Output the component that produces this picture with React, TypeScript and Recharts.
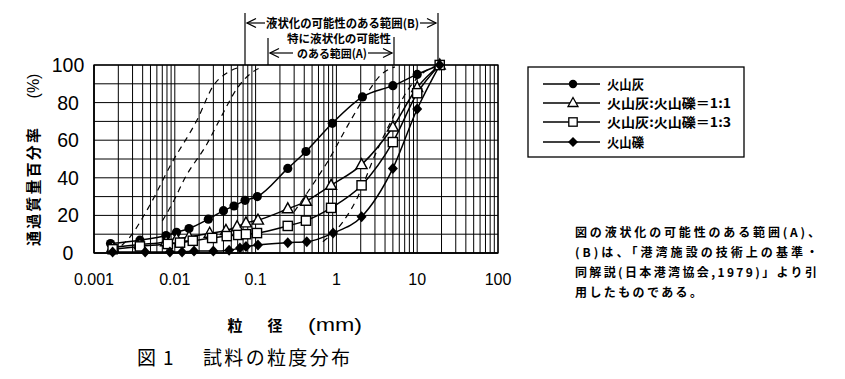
import React from 'react';
import { LineChart, Line, XAxis, YAxis, CartesianGrid } from 'recharts';

// ---- series data (particle size mm, passing %) ----
const ashX = [0.0016, 0.0037, 0.0078, 0.0105, 0.015, 0.026, 0.04, 0.054, 0.074, 0.105, 0.25, 0.42, 0.89, 2.1, 5.0, 10, 19];
const ashY = [5, 6.8, 9.3, 11, 13, 18, 22.5, 25, 28, 30, 45, 54, 69, 83, 89, 95, 100];

const mix11X = [0.0017, 0.0037, 0.0078, 0.0105, 0.015, 0.027, 0.043, 0.059, 0.076, 0.107, 0.25, 0.42, 0.86, 2.05, 5.0, 10, 19];
const mix11Y = [3, 4.5, 6, 7.5, 8.5, 10.5, 12, 14, 16, 17.5, 23.5, 27.5, 36, 47, 67, 88, 100];

const mix13X = [0.0017, 0.0037, 0.0082, 0.0116, 0.0167, 0.029, 0.044, 0.061, 0.076, 0.104, 0.25, 0.42, 0.86, 2.05, 5.0, 10, 19];
const mix13Y = [2, 3.5, 4.8, 5.5, 6.5, 8, 9, 9.6, 10, 10.6, 14.4, 17.2, 24, 36, 59, 85, 100];

const gravelX = [0.0017, 0.0043, 0.0087, 0.0123, 0.0173, 0.03, 0.047, 0.064, 0.076, 0.107, 0.25, 0.43, 0.91, 2.05, 5.0, 10, 19];
const gravelY = [0.5, 0.5, 0.5, 0.5, 1, 1, 1.5, 2.6, 3.4, 4.3, 5.5, 6, 10.6, 19.3, 45, 76.6, 100];

// ---- liquefaction boundary curves (dashed) ----
const bLeftX = [0.0022, 0.0026, 0.0047, 0.0092, 0.019, 0.03, 0.045, 0.065];
const bLeftY = [4, 7, 24, 48, 71, 89, 96, 99];
const aLeftX = [0.007, 0.0095, 0.0134, 0.025, 0.036, 0.06, 0.09, 0.12];
const aLeftY = [17, 27, 40, 58, 71, 88, 96, 99];
const aRightX = [0.3, 0.54, 0.79, 1.39, 2.4, 3.6, 5.3];
const aRightY = [22, 38, 49, 68, 85, 95, 99];
const bRightX = [0.68, 1.2, 1.8, 3.0, 5.0, 8.0, 12, 17];
const bRightY = [6, 16.5, 29, 52, 72, 88, 96, 99.5];

// ---- axes ----
const xDecades = [0.001, 0.01, 0.1, 1, 10, 100];
const xTickLabels = ['0.001', '0.01', '0.1', '1', '10', '100'];
const xMultipliers = [1, 2, 3, 4, 5, 6, 7, 8, 9];
const yGrid = [0, 10, 20, 30, 40, 50, 60, 70, 80, 90, 100];
const yLabelled = [0, 20, 40, 60, 80, 100];

const seriesNames = ['火山灰', '火山灰:火山礫＝1:1', '火山灰:火山礫＝1:3', '火山礫'];

const toData = (xs: number[], ys: number[]) => xs.map((x, i) => ({ x, y: ys[i] }));

const xGridTicks: number[] = [];
xDecades.forEach((d, i) => {
  if (i === xDecades.length - 1) { xGridTicks.push(d); return; }
  xMultipliers.forEach((m) => xGridTicks.push(m === 1 ? d : Number((d * m).toPrecision(3))));
});

const FONT = '"Liberation Sans", Arial, sans-serif';
const JP = '"Noto Sans CJK JP", "Noto Sans", sans-serif';

const XTick = (props: any) => {
  const { x, payload } = props;
  const i = xDecades.indexOf(payload.value);
  if (i < 0) return <g />;
  return (
    <text x={x} y={285} textAnchor="middle" fontFamily={FONT} fontSize={16} fill="#000">
      {xTickLabels[i]}
    </text>
  );
};

const YTick = (props: any) => {
  const { y, payload } = props;
  if (!yLabelled.includes(payload.value)) return <g />;
  return (
    <text x={68} y={y} dy={7} textAnchor="middle" fontFamily={FONT} fontSize={19.5} fill="#000">
      {payload.value}
    </text>
  );
};

const circleDot = (p: any) => <circle key={p.index} cx={p.cx} cy={p.cy} r={4.6} fill="#000" />;
const triDot = (p: any) => (
  <polygon key={p.index} points={`${p.cx},${p.cy - 6} ${p.cx - 5.5},${p.cy + 4} ${p.cx + 5.5},${p.cy + 4}`} fill="#fff" stroke="#000" strokeWidth={1.4} />
);
const sqDot = (p: any) => (
  <rect key={p.index} x={p.cx - 4.6} y={p.cy - 4.6} width={9.2} height={9.2} fill="#fff" stroke="#000" strokeWidth={1.4} />
);
const diaDot = (p: any) => (
  <polygon key={p.index} points={`${p.cx},${p.cy - 5.5} ${p.cx + 5},${p.cy} ${p.cx},${p.cy + 5.5} ${p.cx - 5},${p.cy}`} fill="#000" />
);

const Arrow = ({ x, y, dir }: { x: number; y: number; dir: 1 | -1 }) => (
  <polyline points={`${x + dir * 9},${y - 4.5} ${x},${y} ${x + dir * 9},${y + 4.5}`} fill="none" stroke="#000" strokeWidth={1.3} />
);

const legendMarkers = [
  (cx: number, cy: number) => <circle cx={cx} cy={cy} r={4.2} fill="#000" />,
  (cx: number, cy: number) => <polygon points={`${cx},${cy - 5.5} ${cx - 5},${cy + 3.5} ${cx + 5},${cy + 3.5}`} fill="#fff" stroke="#000" strokeWidth={1.3} />,
  (cx: number, cy: number) => <rect x={cx - 4.2} y={cy - 4.2} width={8.4} height={8.4} fill="#fff" stroke="#000" strokeWidth={1.3} />,
  (cx: number, cy: number) => <polygon points={`${cx},${cy - 5} ${cx + 5},${cy} ${cx},${cy + 5} ${cx - 5},${cy}`} fill="#000" />,
];
const legendRows = [84, 103, 122, 142];
const legendLengths = [37, 124, 124, 37];

const noteLines = [
  '図の液状化の可能性のある範囲(A)、',
  '(B)は、「港湾施設の技術上の基準・',
  '同解説(日本港湾協会,1979)」より引',
  '用したものである。',
];
const noteLengths = [245, 243, 242, 127];

export default function App() {
  const series = [
    { name: seriesNames[0], data: toData(ashX, ashY), dot: circleDot },
    { name: seriesNames[1], data: toData(mix11X, mix11Y), dot: triDot },
    { name: seriesNames[2], data: toData(mix13X, mix13Y), dot: sqDot },
    { name: seriesNames[3], data: toData(gravelX, gravelY), dot: diaDot },
  ];
  const bounds = [
    toData(bLeftX, bLeftY),
    toData(aLeftX, aLeftY),
    toData(aRightX, aRightY),
    toData(bRightX, bRightY),
  ];
  return (
    <div style={{ position: 'absolute', left: 0, top: 0, width: 845, height: 379, background: '#fff' }}>
      <LineChart width={845} height={379} margin={{ top: 65, right: 347, bottom: 96, left: 54 }}>
        <CartesianGrid stroke="#000" strokeWidth={1} />
        <XAxis
          type="number"
          dataKey="x"
          scale="log"
          domain={[0.001, 100]}
          ticks={xGridTicks}
          allowDataOverflow
          height={30}
          tick={<XTick />}
          tickLine={false}
          axisLine={{ stroke: '#000', strokeWidth: 1.3 }}
          interval={0}
        />
        <YAxis
          type="number"
          domain={[0, 100]}
          ticks={yGrid}
          width={40}
          tick={<YTick />}
          tickLine={false}
          axisLine={{ stroke: '#000', strokeWidth: 1.3 }}
          interval={0}
        />
        {bounds.map((b, i) => (
          <Line
            key={'b' + i}
            data={b}
            dataKey="y"
            type="monotone"
            stroke="#000"
            strokeWidth={1.2}
            strokeDasharray="6 5"
            dot={false}
            isAnimationActive={false}
          />
        ))}
        {series.map((s) => (
          <Line
            key={s.name}
            name={s.name}
            data={s.data}
            dataKey="y"
            type="monotone"
            stroke="#000"
            strokeWidth={1.5}
            dot={s.dot}
            isAnimationActive={false}
          />
        ))}
      </LineChart>
      <svg width={845} height={379} style={{ position: 'absolute', left: 0, top: 0, pointerEvents: 'none' }}>
        {/* plot border */}
        <rect x={94} y={65} width={404} height={188} fill="none" stroke="#000" strokeWidth={1.3} />
        {/* range B */}
        <line x1={245} y1={13} x2={245} y2={65} stroke="#000" strokeWidth={1.2} />
        <line x1={438} y1={13} x2={438} y2={65} stroke="#000" strokeWidth={1.2} />
        <line x1={247} y1={23} x2={265} y2={23} stroke="#000" strokeWidth={1.2} />
        <line x1={420} y1={23} x2={436} y2={23} stroke="#000" strokeWidth={1.2} />
        <Arrow x={247} y={23} dir={1} />
        <Arrow x={436} y={23} dir={-1} />
        <text x={266} y={23} dy={4.5} fontFamily={JP} fontSize={12} fontWeight={700} textLength={153} lengthAdjust="spacingAndGlyphs">液状化の可能性のある範囲(B)</text>
        {/* range A */}
        <line x1={268} y1={38} x2={268} y2={65} stroke="#000" strokeWidth={1.2} />
        <line x1={394} y1={37} x2={394} y2={65} stroke="#000" strokeWidth={1.2} />
        <text x={287} y={39} dy={4} fontFamily={JP} fontSize={11.5} fontWeight={700} textLength={104} lengthAdjust="spacingAndGlyphs">特に液状化の可能性</text>
        <line x1={270} y1={53} x2={293} y2={53} stroke="#000" strokeWidth={1.2} />
        <line x1={368} y1={53} x2={392} y2={53} stroke="#000" strokeWidth={1.2} />
        <Arrow x={270} y={53} dir={1} />
        <Arrow x={392} y={53} dir={-1} />
        <text x={297} y={54} dy={4} fontFamily={JP} fontSize={11.5} fontWeight={700} textLength={70} lengthAdjust="spacingAndGlyphs">のある範囲(A)</text>
        {/* y label */}
        <g transform="translate(33,187) rotate(-90)">
          <text x={0} y={0} dy={5.5} textAnchor="middle" fontFamily={JP} fontSize={15} fontWeight={700} textLength={118} lengthAdjust="spacing">通過質量百分率</text>
        </g>
        <g transform="translate(33,86) rotate(-90)">
          <text x={0} y={0} dy={5.5} textAnchor="middle" fontFamily={FONT} fontSize={16}>(%)</text>
        </g>
        {/* x label */}
        <text x={235} y={325} dy={5.5} textAnchor="middle" fontFamily={JP} fontSize={15} fontWeight={700}>粒</text>
        <text x={275} y={325} dy={5.5} textAnchor="middle" fontFamily={JP} fontSize={15} fontWeight={700}>径</text>
        <text x={308} y={325} dy={6} fontFamily={FONT} fontSize={18} textLength={54} lengthAdjust="spacingAndGlyphs">(mm)</text>
        {/* legend */}
        <rect x={528} y={67} width={216} height={90} fill="#fff" stroke="#000" strokeWidth={1.3} />
        {seriesNames.map((n, i) => (
          <g key={n}>
            <line x1={543} y1={legendRows[i]} x2={600} y2={legendRows[i]} stroke="#000" strokeWidth={1.3} />
            {legendMarkers[i](573, legendRows[i])}
            <text x={607} y={legendRows[i]} dy={5} fontFamily={JP} fontSize={13} fontWeight={700} textLength={legendLengths[i]} lengthAdjust="spacingAndGlyphs">{n}</text>
          </g>
        ))}
        {/* note */}
        {noteLines.map((l, i) => (
          <text key={i} x={575} y={232 + i * 20} dy={4.5} fontFamily={JP} fontSize={12} fontWeight={700} textLength={noteLengths[i]} lengthAdjust="spacing">{l}</text>
        ))}
        {/* caption */}
        <text x={137} y={358} dy={7} fontFamily={JP} fontSize={19}>図</text>
        <text x={163} y={358} dy={7} fontFamily={JP} fontSize={19}>1</text>
        <text x={203} y={358} dy={7} fontFamily={JP} fontSize={19} textLength={147} lengthAdjust="spacing">試料の粒度分布</text>
      </svg>
    </div>
  );
}
